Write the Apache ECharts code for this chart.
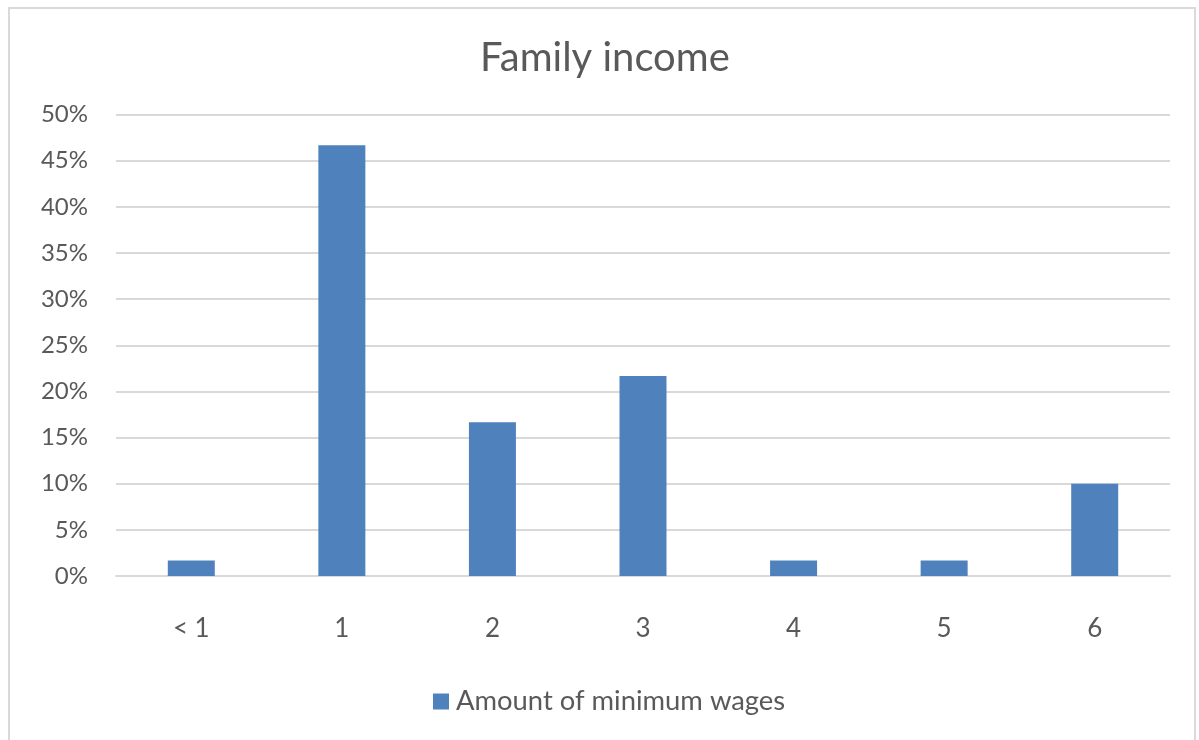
<!DOCTYPE html>
<html><head><meta charset="utf-8">
<script src="https://cdn.jsdelivr.net/npm/echarts@6/dist/echarts.min.js"></script>
<style>
html,body{margin:0;padding:0;background:#fff;overflow:hidden;}
#frame{position:absolute;left:8px;top:7px;width:1188px;height:740px;border:2px solid #d9d9d9;box-sizing:border-box;}
#c{position:absolute;left:0;top:0;width:1199px;height:740px;}
</style></head>
<body>
<div id="frame"></div>
<div id="c"></div>
<script>
const categories = ['< 1', '1', '2', '3', '4', '5', '6'];
const values = [1.67, 46.67, 16.67, 21.67, 1.67, 1.67, 10.0];
const seriesName = 'Amount of minimum wages';
const titleText = 'Family income';

const chart = echarts.init(document.getElementById('c'));
const FONT = 'Lato';
chart.setOption({
  animation: false,
  title: {text: titleText, left: 475, top: 33,
    textStyle: {fontFamily: FONT, fontSize: 40, fontWeight: 'normal', color: '#595959'}},
  legend: {bottom: 20, left: 428, itemWidth: 16, itemHeight: 16, icon: 'rect', itemGap: 8,
    textStyle: {fontFamily: FONT, fontSize: 27.4, color: '#595959', padding: [0, 0, 0, 2]}},
  grid: {left: 116, right: 29, top: 114.5, bottom: 164},
  xAxis: {type: 'category', data: categories,
    axisLine: {lineStyle: {color: '#d9d9d9', width: 2}},
    axisTick: {show: false},
    axisLabel: {fontFamily: FONT, fontSize: 26, color: '#595959', margin: 40}},
  yAxis: {type: 'value', min: 0, max: 50, interval: 5,
    axisLabel: {formatter: v => v + '%', fontFamily: FONT, fontSize: 24, color: '#595959', margin: 28},
    splitLine: {lineStyle: {color: '#d9d9d9', width: 2}},
    axisLine: {show: false}, axisTick: {show: false}},
  series: [{type: 'bar', name: seriesName, data: values, barWidth: 47,
    itemStyle: {color: '#4f81bd'}}]
});
</script>
</body></html>
